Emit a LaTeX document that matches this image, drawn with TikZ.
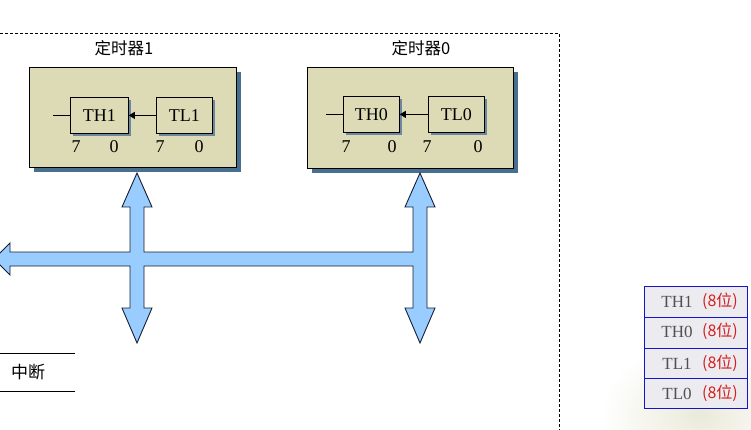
\documentclass[tikz,border=0pt]{standalone}
\usepackage{fontspec}
\setmainfont{Liberation Serif}
\newfontfamily\cjk{Noto Sans CJK SC}
\usetikzlibrary{shadows,arrows.meta}
\definecolor{tanfill}{RGB}{220,219,182}
\definecolor{shadowblue}{RGB}{72,112,142}
\definecolor{regshadow}{RGB}{110,135,160}
\definecolor{busfill}{RGB}{153,204,255}
\definecolor{busline}{RGB}{20,30,50}
\definecolor{cellfill}{RGB}{236,236,240}
\definecolor{cellblue}{RGB}{20,20,200}
\definecolor{regred}{RGB}{210,30,30}
\definecolor{reggray}{RGB}{80,80,80}
\definecolor{smudge}{RGB}{234,234,218}
\begin{document}
\begin{tikzpicture}[x=1pt,y=-1pt,
  timerbox/.style={draw=black, line width=0.8pt, fill=tanfill, anchor=north west, inner sep=0pt,
    drop shadow={shadow xshift=4.5pt, shadow yshift=-4.5pt, fill=shadowblue, opacity=1}},
  regbox/.style={draw=black, line width=0.8pt, fill=tanfill, anchor=north west, inner sep=0pt,
    minimum height=36pt, font=\fontsize{18}{18}\selectfont,
    drop shadow={shadow xshift=3pt, shadow yshift=-3pt, fill=regshadow, opacity=1}},
  bitlbl/.style={font=\fontsize{18}{18}\selectfont, inner sep=0pt},
  title/.style={font=\cjk\fontsize{16.5}{16.5}\selectfont, inner sep=0pt},
  wire/.style={line width=0.8pt},
  bus/.style={draw=busline, fill=busfill, line width=0.9pt, line join=miter},
  cell/.style={draw=cellblue, line width=1.2pt, fill=cellfill, anchor=north west, inner sep=0pt,
    minimum width=103pt, minimum height=31pt},
  celltxt/.style={font=\fontsize{17}{17}\selectfont, text=reggray, inner sep=0pt},
  cellred/.style={font=\cjk\fontsize{16}{16}\selectfont, text=regred, inner sep=0pt},
  frame/.style={line width=0.9pt, dash pattern=on 3pt off 2pt}
]
\useasboundingbox (0,0) rectangle (751,430);
% smudge in the corner
\shade[inner color=smudge, outer color=white] (700,415) ellipse (100 and 75);

% dashed frame
\draw[frame] (0,33) -- (559,33) -- (559,432);

% titles
\node[title] (t1) at (124,48) {定时器1};
\node[title] (t0) at (421,48) {定时器0};

% timer 1
\node[timerbox, minimum width=207pt, minimum height=100pt] (box1) at (29,67) {};
\node[regbox, minimum width=58pt] (th1) at (70,97) {TH1};
\node[regbox, minimum width=56pt] (tl1) at (156,97) {TL1};
\coordinate (in1) at ([xshift=-17pt]th1.west);
\draw[wire] (in1) -- (th1.west);
\draw[wire, -{Triangle[length=6pt,width=7pt]}] (tl1.west) -- (th1.east);
\node[bitlbl] (b17) at (76,147) {7};
\node[bitlbl] (b10) at (114,147) {0};
\node[bitlbl] (b27) at (160,147) {7};
\node[bitlbl] (b20) at (199,147) {0};

% timer 0
\node[timerbox, minimum width=206pt, minimum height=101pt] (box0) at (307,67) {};
\node[regbox, minimum width=56pt] (th0) at (343,96) {TH0};
\node[regbox, minimum width=56pt] (tl0) at (428,96) {TL0};
\coordinate (in0) at ([xshift=-17pt]th0.west);
\draw[wire] (in0) -- (th0.west);
\draw[wire, -{Triangle[length=6pt,width=7pt]}] (tl0.west) -- (th0.east);
\node[bitlbl] (c17) at (346,147) {7};
\node[bitlbl] (c10) at (392,147) {0};
\node[bitlbl] (c27) at (427,147) {7};
\node[bitlbl] (c20) at (478,147) {0};

% bus
\draw[bus] (-6,259) -- (10,243) -- (10,252) -- (130,252) -- (130,207) -- (122,207)
  -- (137,173) -- (152,207) -- (144,207) -- (144,252) -- (413,252) -- (413,207)
  -- (405,207) -- (420,173) -- (435,207) -- (427,207) -- (427,308) -- (435,308)
  -- (420,343) -- (405,308) -- (413,308) -- (413,266) -- (144,266) -- (144,308)
  -- (152,308) -- (137,343) -- (122,308) -- (130,308) -- (130,266) -- (10,266)
  -- (10,275) -- cycle;

% interrupt
\draw[wire] (0,353) -- (75,353);
\draw[wire] (0,391) -- (75,391);
\node[font=\cjk\fontsize{17}{17}\selectfont, inner sep=0pt] (irq) at (28,372) {中断};

% register table
\node[cell] (r1) at (644,286) {};
\node[cell] (r2) at (644,317) {};
\node[cell] (r3) at (644,348) {};
\node[cell, minimum height=30pt] (r4) at (644,378) {};
\node[celltxt] (r1a) at (677,302) {TH1};
\node[cellred] (r1b) at (720,301) {(8位)};
\node[celltxt] (r2a) at (677,332) {TH0};
\node[cellred] (r2b) at (720,331) {(8位)};
\node[celltxt] (r3a) at (677,364) {TL1};
\node[cellred] (r3b) at (720,363) {(8位)};
\node[celltxt] (r4a) at (677,394) {TL0};
\node[cellred] (r4b) at (720,393) {(8位)};
\end{tikzpicture}
\end{document}
